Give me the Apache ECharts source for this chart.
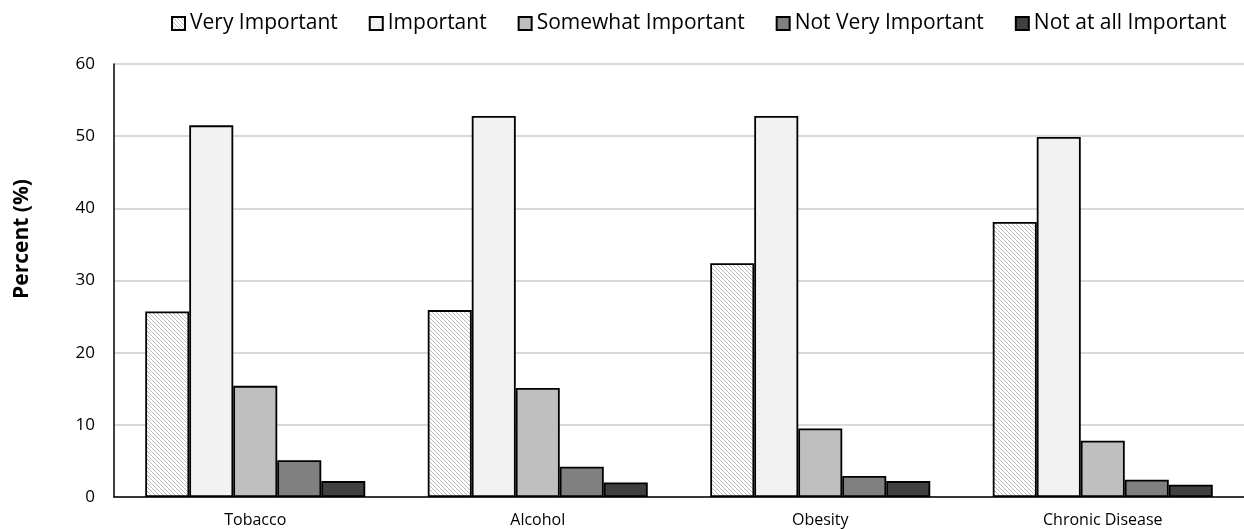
<!DOCTYPE html>
<html><head><meta charset="utf-8">
<script src="https://cdn.jsdelivr.net/npm/echarts@6/dist/echarts.min.js"></script>
<style>html,body{margin:0;padding:0;background:#fff;}#c{width:1244px;height:529px;}</style>
</head><body><div id="c"></div>
<script>
const categories = ["Tobacco", "Alcohol", "Obesity", "Chronic Disease"];
const seriesNames = ["Very Important", "Important", "Somewhat Important", "Not Very Important", "Not at all Important"];
const veryImportant = [25.7, 25.9, 32.4, 38.1];
const important = [51.5, 52.8, 52.8, 49.9];
const somewhatImportant = [15.4, 15.1, 9.5, 7.8];
const notVeryImportant = [5.1, 4.2, 2.9, 2.4];
const notAtAllImportant = [2.2, 2.0, 2.2, 1.7];
const yTicks = [0, 10, 20, 30, 40, 50, 60];
const yTitle = "Percent (%)";

function hatch() {
  const c = document.createElement('canvas');
  c.width = 4; c.height = 4;
  const g = c.getContext('2d');
  g.fillStyle = '#ffffff'; g.fillRect(0, 0, 4, 4);
  g.fillStyle = '#bcbcbc';
  for (let i = 0; i < 4; i++) { g.fillRect(i, i, 1, 1); }
  return c;
}
const fills = [{image: hatch(), repeat: 'repeat'}, '#f2f2f2', '#bfbfbf', '#808080', '#404040'];
const values = [veryImportant, important, somewhatImportant, notVeryImportant, notAtAllImportant];
const font = '"Open Sans", "Noto Sans", sans-serif';

const chart = echarts.init(document.getElementById('c'), null, {renderer: 'canvas'});
chart.setOption({
  animation: false,
  legend: {
    top: 8, left: 166, itemGap: 31, itemWidth: 13, itemHeight: 13, icon: 'rect',
    textStyle: {fontFamily: font, fontSize: 21, color: '#000'},
    data: seriesNames
  },
  graphic: [{
    type: 'text', x: 22, y: 239, rotation: Math.PI / 2,
    style: {text: yTitle, fontFamily: font, fontSize: 21, fontWeight: 'bold', fill: '#000', align: 'center', verticalAlign: 'middle'}
  }],
  grid: {left: 114, top: 64, width: 1142, height: 433, containLabel: false},
  xAxis: {
    type: 'category', data: categories,
    axisLine: {lineStyle: {color: '#000', width: 1.5}},
    axisTick: {show: false},
    axisLabel: {fontFamily: font, fontSize: 16, color: '#000', margin: 15}
  },
  yAxis: {
    type: 'value', min: yTicks[0], max: yTicks[yTicks.length - 1], interval: 10,
    axisLine: {show: true, lineStyle: {color: '#000', width: 1.5}},
    axisTick: {show: false},
    axisLabel: {fontFamily: font, fontSize: 17, color: '#000', margin: 19},
    splitLine: {lineStyle: {color: '#d9d9d9', width: 2}}
  },
  series: seriesNames.map((n, i) => ({
    name: n, type: 'bar', data: values[i],
    barWidth: 44, barGap: '0%',
    itemStyle: {color: fills[i], borderColor: '#000', borderWidth: 1.8}
  }))
});
</script></body></html>
